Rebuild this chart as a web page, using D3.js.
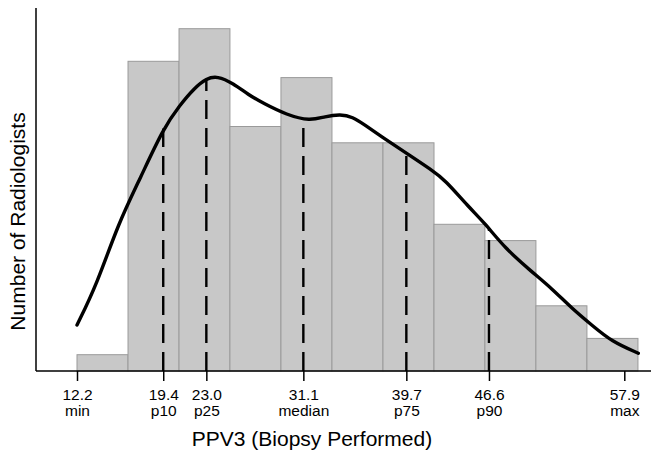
<!DOCTYPE html>
<html>
<head>
<meta charset="utf-8">
<script src="https://cdn.jsdelivr.net/npm/d3@7"></script>
<style>
  body { margin: 0; background: #fff; }
  text { font-family: "Liberation Sans", Arial, Helvetica, sans-serif; fill: #000; }
</style>
</head>
<body>
<div id="chart"></div>
<script>
// histogram bins (PPV3 %), edges and counts
var binEdges = [12.2, 16.46, 20.72, 24.97, 29.23, 33.49, 37.75, 42.01, 46.26, 50.52, 54.78, 59.04];
var binCounts = [1, 19, 21, 15, 18, 14, 14, 9, 8, 4, 2];

// smoothed density curve, scaled to counts
var curveX = [12.2, 13.84, 15.65, 17.5, 19.41, 20.8, 22.0, 23.03, 23.9, 25.25, 26.5, 27.76,
              29.71, 31.66, 32.91, 34.2, 35.2, 36.25, 37.64, 39.73, 41.82, 42.93, 44.88, 46.27,
              47.94, 50.17, 51.84, 53.51, 55.18, 56.85, 59.07];
var curveY = [2.82, 5.28, 9.06, 11.85, 14.89, 16.32, 17.36, 17.95, 18.1, 17.65, 16.95, 16.42,
              15.71, 15.33, 15.62, 15.75, 15.6, 15.09, 14.37, 13.35, 12.33, 11.72, 10.08, 9.06,
              7.53, 6.09, 5.07, 3.85, 2.82, 1.8, 1.09];

// percentile ticks
var tickValues = [12.2, 19.4, 23.0, 31.1, 39.7, 46.6, 57.9];
var tickNames = ["min", "p10", "p25", "median", "p75", "p90", "max"];

var W = 651, H = 451;
var svg = d3.select("#chart").append("svg")
    .attr("width", W)
    .attr("height", H);

var x = d3.scaleLinear().domain([12.2, 57.9]).range([77, 624.3]);
var y = d3.scaleLinear().domain([0, 22.27]).range([371, 8]);

// bars
var bins = binCounts.map(function(c, i) { return {x0: binEdges[i], x1: binEdges[i + 1], n: c}; });
svg.selectAll("rect.bar")
  .data(bins)
  .enter()
  .append("rect")
    .attr("class", "bar")
    .attr("x", function(d) { return x(d.x0); })
    .attr("y", function(d) { return y(d.n); })
    .attr("width", function(d) { return x(d.x1) - x(d.x0); })
    .attr("height", function(d) { return y(0) - y(d.n); })
    .attr("fill", "#c8c8c8")
    .attr("stroke", "#9a9a9a")
    .attr("stroke-width", 1);

// density value at v (linear between curve points)
function curveAt(v) {
  var i = d3.bisectLeft(curveX, v);
  if (i <= 0) return curveY[0];
  if (i >= curveX.length) return curveY[curveY.length - 1];
  var t = (v - curveX[i - 1]) / (curveX[i] - curveX[i - 1]);
  return curveY[i - 1] + t * (curveY[i] - curveY[i - 1]);
}

// dashed percentile lines (inner five)
var inner = tickValues.slice(1, 6);
svg.selectAll("line.pct")
  .data(inner)
  .enter()
  .append("line")
    .attr("class", "pct")
    .attr("x1", function(d) { return x(d); })
    .attr("x2", function(d) { return x(d); })
    .attr("y1", y(0))
    .attr("y2", function(d) { return y(curveAt(d)); })
    .attr("stroke", "#000")
    .attr("stroke-width", 2.4)
    .attr("stroke-dasharray", "19,9");

// density curve
var line = d3.line()
    .x(function(d) { return x(d[0]); })
    .y(function(d) { return y(d[1]); })
    .curve(d3.curveBasis);
svg.append("path")
    .datum(d3.zip(curveX, curveY))
    .attr("d", line)
    .attr("fill", "none")
    .attr("stroke", "#000")
    .attr("stroke-width", 3.4)
    .attr("stroke-linejoin", "round")
    .attr("stroke-linecap", "round");

// axes
svg.append("line")
    .attr("x1", 36).attr("x2", 36)
    .attr("y1", 8).attr("y2", y(0))
    .attr("stroke", "#000").attr("stroke-width", 1.5);
svg.append("line")
    .attr("x1", 36).attr("x2", W)
    .attr("y1", y(0)).attr("y2", y(0))
    .attr("stroke", "#000").attr("stroke-width", 1.5);

var xAxis = svg.append("g")
    .attr("transform", "translate(0," + y(0) + ")")
    .call(d3.axisBottom(x).tickValues(tickValues).tickSize(10).tickFormat(d3.format(".1f")));
xAxis.select(".domain").remove();
xAxis.selectAll(".tick line").attr("stroke", "#000").attr("stroke-width", 1.5);
xAxis.selectAll(".tick text")
    .attr("y", 29)
    .attr("dy", null)
    .style("font-size", "15.5px")
    .style("font-family", "'Liberation Sans', Arial, sans-serif");
xAxis.selectAll(".tick")
  .append("text")
    .attr("y", 44.5)
    .attr("fill", "#000")
    .attr("text-anchor", "middle")
    .style("font-size", "15.5px")
    .style("font-family", "'Liberation Sans', Arial, sans-serif")
    .text(function(d, i) { return tickNames[i]; });

// axis titles
svg.append("text")
    .attr("x", 312)
    .attr("y", 446)
    .attr("text-anchor", "middle")
    .style("font-size", "21px")
    .text("PPV3 (Biopsy Performed)");

svg.append("text")
    .attr("transform", "translate(25,221.5) rotate(-90)")
    .attr("text-anchor", "middle")
    .style("font-size", "21px")
    .text("Number of Radiologists");
</script>
</body>
</html>
